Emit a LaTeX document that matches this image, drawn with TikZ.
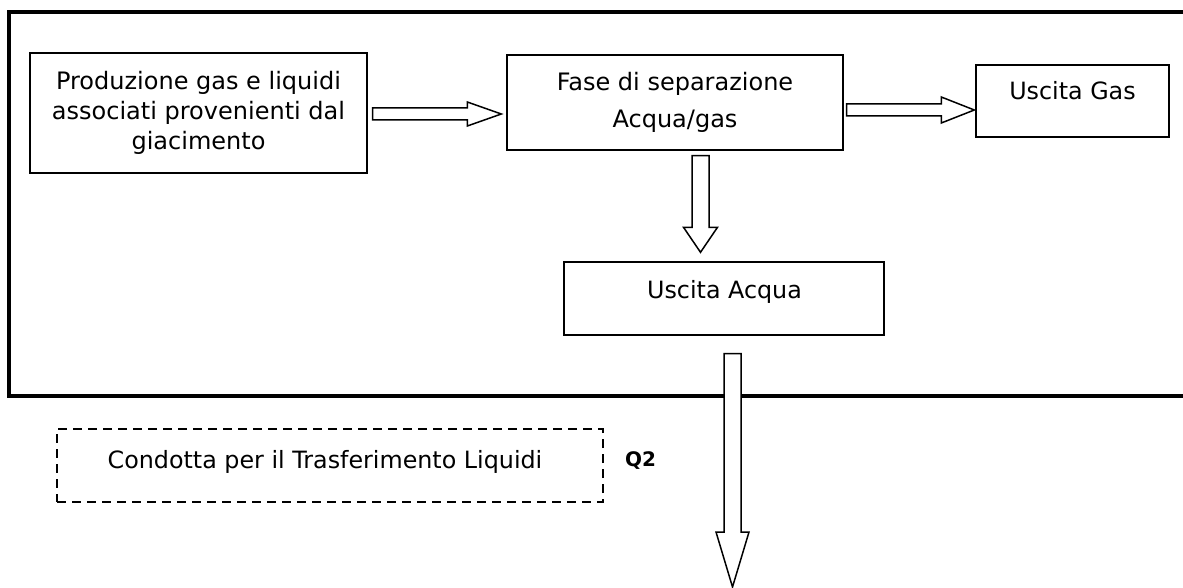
\documentclass[tikz,border=0pt]{standalone}
\usepackage{fontspec}
\setmainfont{DejaVu Sans}
\usetikzlibrary{calc}
\tikzset{
  box/.style={draw, line width=1.4pt, inner sep=0pt, align=center,
    font=\fontsize{24}{30}\selectfont},
  lbl/.style={inner sep=0pt, font=\fontsize{23.8}{30}\selectfont},
  dashbox/.style={draw, line width=1.6pt, dash pattern=on 9pt off 6pt, inner sep=0pt},
  frame/.style={line width=4.3pt},
  blk/.style={draw, fill=white, line width=1.5pt, line join=miter},
  hblock/.style n args={3}{blk, to path={let \p1=(\tikztostart), \p2=(\tikztotarget) in
    (\x1,\y1+#1) -- (\x2-#3,\y1+#1) -- (\x2-#3,\y1+#2) -- (\x2,\y1) --
    (\x2-#3,\y1-#2) -- (\x2-#3,\y1-#1) -- (\x1,\y1-#1) -- cycle}},
  vblock/.style n args={3}{blk, to path={let \p1=(\tikztostart), \p2=(\tikztotarget) in
    (\x1+#1,\y1) -- (\x1+#1,\y2+#3) -- (\x1+#2,\y2+#3) -- (\x1,\y2) --
    (\x1-#2,\y2+#3) -- (\x1-#1,\y2+#3) -- (\x1-#1,\y1) -- cycle}},
}
\begin{document}
\begin{tikzpicture}[x=1pt,y=-1pt]
\useasboundingbox (0,0) rectangle (1183,588);
% outer frame (open on the right)
\draw[frame] (1195,12) -| (9,396) -- (1195,396);

% boxes
\node[box, minimum width=337pt, minimum height=120pt] (p) at (198.5,113)
  {Produzione gas e liquidi\\associati provenienti dal\\giacimento};
\node[box, minimum width=336pt, minimum height=95pt] (f) at (675,102.5)
  {Fase di separazione\\[7pt]Acqua/gas};
\node[box, minimum width=193pt, minimum height=72pt] (g) at (1072.5,101) {};
\node[lbl, anchor=base] (gt) at (1072.5,100) {Uscita Gas};
\node[box, minimum width=320pt, minimum height=73pt] (a) at (724,298.5) {};
\node[lbl, anchor=base] (at) at (724.5,298) {Uscita Acqua};

% dashed box and label
\node[dashbox, minimum width=546pt, minimum height=73pt] (d) at (330,465.5) {};
\node[lbl, anchor=base] (dt) at (325,468) {Condotta per il Trasferimento Liquidi};
\node[inner sep=0pt, anchor=west, font=\bfseries\fontsize{20}{24}\selectfont] (q) at (625,461) {Q2};

% connector coordinates
\coordinate (a1s) at ($(p.east)+(5,1)$);
\coordinate (a1e) at ($(f.west)+(-5,0)$);
\coordinate (a2s) at ($(f.east)+(3,7.5)$);
\coordinate (a2e) at ($(g.west)+(-1,0)$);
\coordinate (a3s) at ($(f.south)+(25.5,5)$);
\coordinate (a3e) at ($(a.north)+(0,-9)$);
\coordinate (a4s) at ($(a.south)+(8.5,18)$);
\coordinate (a4e) at (732.5,587);

% block arrows
\draw[hblock={6pt}{12pt}{34pt}] (a1s) to (a1e);
\draw[hblock={6pt}{13pt}{33pt}] (a2s) to (a2e);
\draw[vblock={8.5pt}{17pt}{25pt}] (a3s) to (a3e);
\draw[vblock={8.5pt}{16.5pt}{55pt}] (a4s) to (a4e);
\end{tikzpicture}
\end{document}
